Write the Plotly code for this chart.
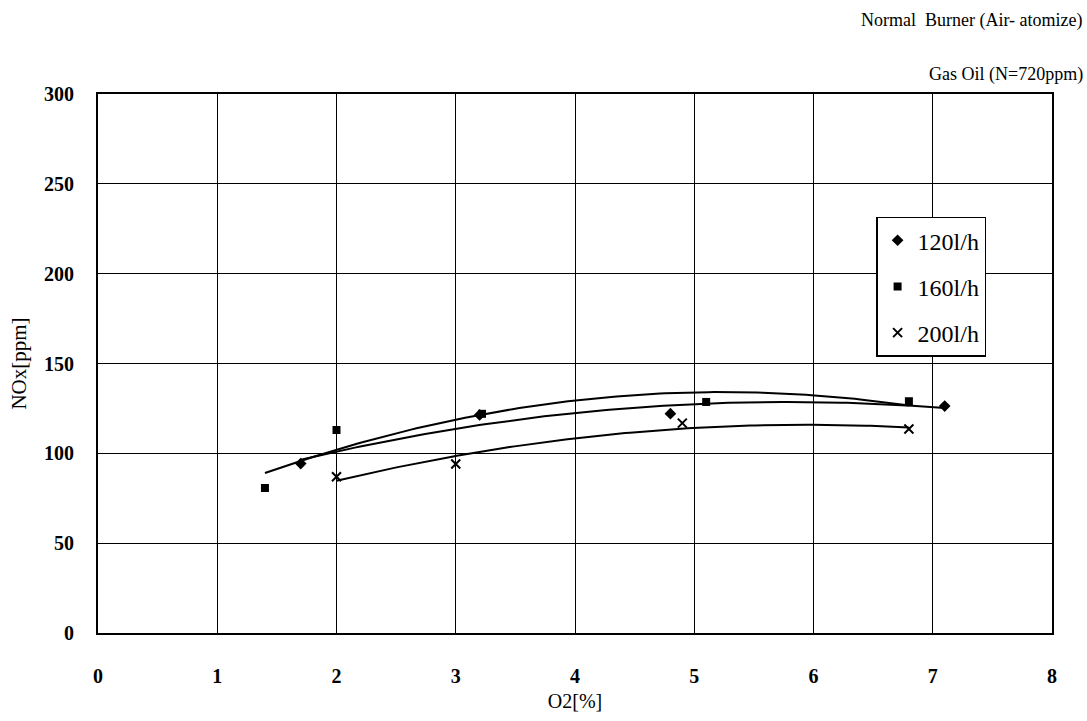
import numpy as np
import plotly.graph_objects as go

# Measured NOx vs. excess O2 for three fuel flow rates
o2_120 = [1.7, 3.2, 4.8, 7.1]
nox_120 = [94.3, 121.4, 122.1, 126.3]

o2_160 = [1.4, 2.0, 3.22, 5.1, 6.8]
nox_160 = [80.7, 113.0, 122.0, 128.6, 129.0]

o2_200 = [2.0, 3.0, 4.9, 6.8]
nox_200 = [87.0, 94.1, 116.8, 113.5]

series_names = ["120l/h", "160l/h", "200l/h"]
x_ticks = [0, 1, 2, 3, 4, 5, 6, 7, 8]
y_ticks = [0, 50, 100, 150, 200, 250, 300]

title_lines = ["Normal  Burner (Air- atomize)", "Gas Oil (N=720ppm)"]

SERIF = "Liberation Serif"

series = [
    (series_names[0], o2_120, nox_120, dict(symbol="diamond", size=9, color="black")),
    (series_names[1], o2_160, nox_160, dict(symbol="square", size=8, color="black")),
    (series_names[2], o2_200, nox_200, dict(symbol="x-thin", size=9, color="black",
                                            line=dict(width=2, color="black"))),
]

fig = go.Figure()
for name, xs, ys, marker in series:
    # 2nd-order polynomial trend line over the measured span
    coef = np.polyfit(xs, ys, 2)
    xf = np.linspace(min(xs), max(xs), 120)
    fig.add_trace(go.Scatter(
        x=xf, y=np.polyval(coef, xf), mode="lines",
        line=dict(color="black", width=2),
        legendgroup=name, showlegend=False, hoverinfo="skip",
    ))
    fig.add_trace(go.Scatter(
        x=xs, y=ys, mode="markers", name=name, marker=marker,
        legendgroup=name,
    ))

L, R, T, B = 97.5, 1052.0, 94.3, 638.0
W, H = 1087, 721
pw, ph = R - L, B - T


def px_x(x):
    return (x - L) / pw


def px_y(y):
    return 1 - (y - T) / ph


axis_common = dict(
    showline=True, linecolor="black", linewidth=2, mirror=True,
    showgrid=True, gridcolor="black", gridwidth=1,
    zeroline=False, ticks="",
    tickfont=dict(family=SERIF, size=20, color="black", weight="bold"),
)

fig.update_xaxes(
    range=[0, 8], tickvals=x_ticks, ticktext=[str(v) for v in x_ticks],
    ticklabelstandoff=24,
    title=dict(text="O2[%]", font=dict(family=SERIF, size=20, color="black"),
               standoff=8),
    **axis_common,
)
fig.update_yaxes(
    range=[0, 300], tickvals=y_ticks, ticktext=[str(v) for v in y_ticks],
    ticklabelstandoff=18,
    title=dict(text="NOx[ppm]", font=dict(family=SERIF, size=21, color="black"),
               standoff=12),
    **axis_common,
)

for text, ypix in zip(title_lines, [20, 75]):
    fig.add_annotation(
        text=text, xref="paper", yref="paper",
        x=px_x(1085), y=px_y(ypix), xanchor="right", yanchor="middle",
        showarrow=False, font=dict(family=SERIF, size=18, color="black"),
    )

fig.update_layout(
    width=W, height=H,
    margin=dict(l=L, r=W - R, t=T, b=H - B, pad=0),
    paper_bgcolor="white", plot_bgcolor="white",
    showlegend=True,
    legend=dict(
        x=px_x(876), y=px_y(218), xanchor="left", yanchor="top",
        bgcolor="white", bordercolor="black", borderwidth=1.5,
        font=dict(family=SERIF, size=24, color="black"),
        traceorder="grouped", tracegroupgap=12,
        itemwidth=30,
    ),
)

fig.write_html("out.html")
